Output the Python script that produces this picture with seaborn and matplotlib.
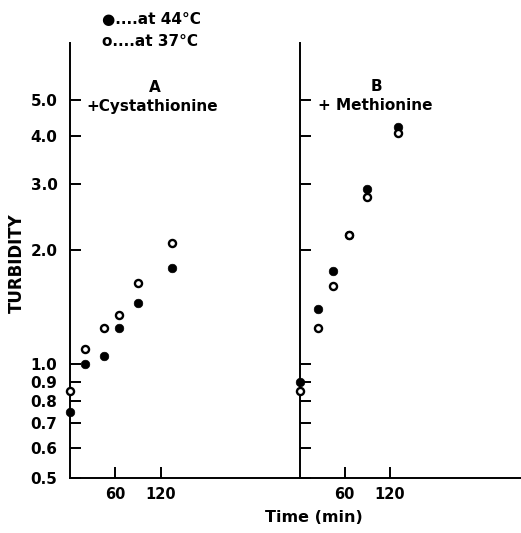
import matplotlib
matplotlib.use("Agg")
import matplotlib.pyplot as plt
import matplotlib.ticker as mticker
import numpy as np
import pandas as pd
import seaborn as sns

# Turbidity of cultures at two temperatures
time_a = [0, 20, 45, 65, 90, 135]
cysta_44 = [0.75, 1.00, 1.05, 1.25, 1.45, 1.80]
cysta_37 = [0.85, 1.10, 1.25, 1.35, 1.64, 2.09]

time_b = [0, 25, 45, 65, 90, 130]
meth_44 = [0.90, 1.40, 1.76, 2.20, 2.90, 4.23]
meth_37 = [0.85, 1.25, 1.61, 2.20, 2.77, 4.07]

y_ticks = [0.5, 0.6, 0.7, 0.8, 0.9, 1.0, 2.0, 3.0, 4.0, 5.0]
y_tick_labels = ["0.5", "0.6", "0.7", "0.8", "0.9", "1.0", "2.0", "3.0", "4.0", "5.0"]
x_ticks = [60, 120]
x_tick_labels = ["60", "120"]

sns.set_style("ticks")
plt.rcParams["font.family"] = ["DejaVu Sans"]
plt.rcParams["font.weight"] = "bold"

W, H = 521, 533
fig = plt.figure(figsize=(W / 100, H / 100), dpi=100)

px_per_min = 0.755
x0_a, x0_b, y_bot, y_top = 70, 299.5, 478.3, 43
ax_a = fig.add_axes([x0_a / W, 1 - y_bot / H, (x0_b - x0_a) / W, (y_bot - y_top) / H])
ax_b = fig.add_axes([x0_b / W, 1 - y_bot / H, (W - x0_b) / W, (y_bot - y_top) / H])

y_max = 0.5 * 2 ** ((y_bot - y_top) / 114.0)

panels = [
    (ax_a, time_a, cysta_44, cysta_37, (x0_b - x0_a) / px_per_min),
    (ax_b, time_b, meth_44, meth_37, (W - x0_b) / px_per_min),
]

for ax, t, v44, v37, xmax in panels:
    df44 = pd.DataFrame({"time": t, "turbidity": v44})
    df37 = pd.DataFrame({"time": t, "turbidity": v37})
    sns.scatterplot(data=df44, x="time", y="turbidity", ax=ax, s=38,
                    color="black", edgecolor="black", linewidth=0.5,
                    clip_on=False, zorder=3)
    sns.scatterplot(data=df37, x="time", y="turbidity", ax=ax, s=26,
                    facecolor="white", edgecolor="black", linewidth=1.7,
                    clip_on=False, zorder=4)
    ax.set_yscale("log")
    ax.set_ylim(0.5, y_max)
    ax.set_xlim(0, xmax)
    ax.yaxis.set_major_locator(mticker.FixedLocator(y_ticks))
    ax.yaxis.set_minor_locator(mticker.NullLocator())
    ax.set_xticks(x_ticks)
    ax.set_xticklabels(x_tick_labels, fontsize=10.5, fontweight="bold")
    ax.tick_params(axis="both", direction="in", length=8, width=1.4,
                   colors="black")
    ax.tick_params(axis="x", pad=6)
    ax.tick_params(axis="y", pad=9)
    ax.set_xlabel("")
    ax.set_ylabel("")
    for side in ("top", "right"):
        ax.spines[side].set_visible(False)
    for side in ("left", "bottom"):
        ax.spines[side].set_linewidth(1.4)
        ax.spines[side].set_color("black")
    ax.patch.set_alpha(0)

ax_a.set_yticklabels(y_tick_labels, fontsize=11, fontweight="bold")
ax_b.set_yticklabels([])

def fig_text(x, y, s, **kw):
    fig.text(x / W, 1 - y / H, s, fontweight="bold", color="black", **kw)

fig_text(155, 88, "A", fontsize=11, ha="center", va="center")
fig_text(152, 106, "+Cystathionine", fontsize=11, ha="center", va="center")
fig_text(376, 87, "B", fontsize=11, ha="center", va="center")
fig_text(375, 105, "+ Methionine", fontsize=11, ha="center", va="center")

fig_text(102, 20, "\u25cf....at 44\u00b0C", fontsize=11, ha="left", va="center")
fig_text(102, 42, "o....at 37\u00b0C", fontsize=11, ha="left", va="center")

fig_text(17, 263, "TURBIDITY", fontsize=12, ha="center", va="center", rotation=90)
fig_text(314, 517, "Time (min)", fontsize=11.5, ha="center", va="center")

fig.savefig("out.png", dpi=100, facecolor="white")
